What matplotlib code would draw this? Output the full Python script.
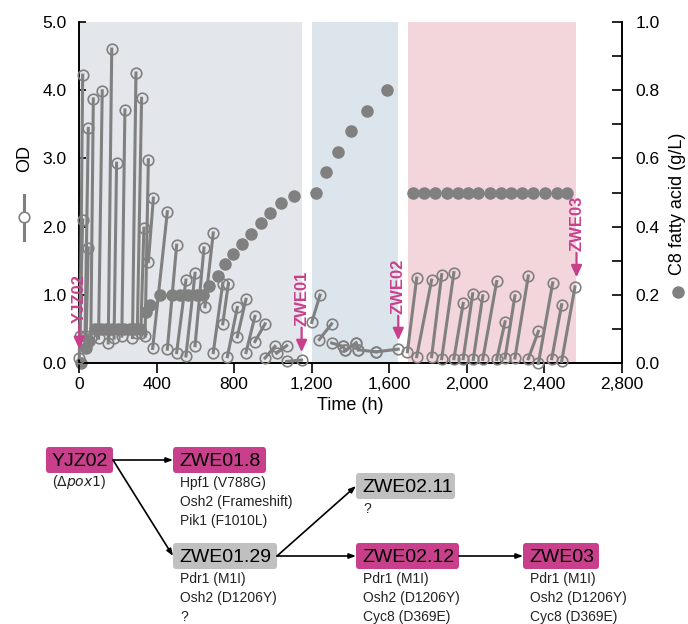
import numpy as np
import matplotlib
matplotlib.use("Agg")
import matplotlib.pyplot as plt
from matplotlib.patches import FancyBboxPatch
from matplotlib.ticker import FuncFormatter, MultipleLocator

plt.rcParams['font.family'] = ['Liberation Sans', 'DejaVu Sans']

# OD passages: each one drawn as a segment from (t0, od0) to (t1, od1)
seg_t0 = [0, 5, 30, 36, 60, 100, 150, 180, 220, 275, 300, 318, 340, 357, 379, 455, 503, 551, 598, 649, 692, 741,
          765, 816, 861, 907, 959, 1019, 1071, 1200, 1239, 1303, 1363, 1372, 1429, 1441, 1532,
          1694, 1742, 1819, 1871, 1934, 1982, 2034, 2083, 2155, 2198, 2249, 2318, 2370, 2439, 2490]
seg_od0 = [0.08, 0.4, 0.35, 0.4, 0.37, 0.37, 0.3, 0.37, 0.4, 0.38, 0.45, 0.45, 0.4, 1.49, 0.22, 0.21, 0.16, 0.11,
           0.26, 0.83, 0.16, 0.58, 0.1, 0.39, 0.16, 0.32, 0.08, 0.15, 0.03, 0.6, 0.35, 0.3, 0.25, 0.19, 0.3, 0.2,
           0.17, 0.17, 0.1, 0.1, 0.07, 0.07, 0.07, 0.06, 0.06, 0.06, 0.08, 0.08, 0.07, 0.0, 0.07, 0.03]
seg_t1 = [18, 18, 47, 47, 73, 119, 168, 193, 236, 293, 322, 334, 357, 383, 455, 503, 551, 598, 644, 692, 741, 770,
          816, 861, 907, 959, 1010, 1071, 1148, 1243, 1303, 1363, 1372, 1429, 1441, 1532, 1647,
          1742, 1819, 1871, 1934, 1982, 2031, 2083, 2155, 2198, 2249, 2318, 2370, 2444, 2490, 2559]
seg_od1 = [2.1, 4.22, 3.44, 1.69, 3.87, 3.99, 4.6, 2.93, 3.71, 4.25, 3.88, 1.98, 2.98, 2.42, 2.22, 1.73, 1.22, 1.32,
           1.69, 1.91, 1.17, 1.17, 0.82, 0.94, 0.69, 0.58, 0.25, 0.26, 0.05, 1.0, 0.58, 0.25, 0.19, 0.3, 0.2, 0.17,
           0.21, 1.25, 1.22, 1.3, 1.33, 0.88, 1.02, 0.99, 1.2, 0.61, 0.99, 1.28, 0.47, 1.18, 0.86, 1.12]

# C8 fatty acid titer (right axis)
c8_t = [10, 35, 52, 82, 110, 140, 170, 200, 230, 260, 290, 314, 345, 366, 417, 477, 520, 563, 606, 640,
        672, 715, 753, 795, 839, 887, 937, 985, 1040, 1109, 1222, 1274, 1337, 1401, 1484, 1587,
        1724, 1780, 1835, 1896, 1956, 2008, 2059, 2120, 2175, 2227, 2284, 2344, 2404, 2465, 2516]
c8_v = [0.0, 0.045, 0.066, 0.1, 0.1, 0.1, 0.1, 0.1, 0.1, 0.1, 0.1, 0.1, 0.15, 0.17, 0.2, 0.2, 0.2, 0.2, 0.2, 0.2,
        0.227, 0.257, 0.29, 0.32, 0.35, 0.38, 0.41, 0.44, 0.47, 0.49, 0.5, 0.56, 0.62, 0.68, 0.74, 0.8,
        0.5, 0.5, 0.5, 0.5, 0.5, 0.5, 0.5, 0.5, 0.5, 0.5, 0.5, 0.5, 0.5, 0.5, 0.5]

# shaded phases
phase_start = [0, 1200, 1699]
phase_end = [1148, 1647, 2564]
phase_color = ['#e3e6ea', '#dce4ec', '#f3d6dc']

# strain transfer points
strain_names = ['YJZ02', 'ZWE01', 'ZWE02', 'ZWE03']
strain_t = [0, 1148, 1647, 2567]
strain_od = [0.17, 0.125, 0.3, 1.22]

grey = '#808080'
magenta = '#c8408c'

fig = plt.figure(figsize=(6.88, 6.24), dpi=100)
ax = fig.add_axes([0.1151, 0.4175, 0.7885, 0.5477])
ax2 = ax.twinx()
ax.set_zorder(ax2.get_zorder() + 1)
ax.patch.set_visible(False)

for s, e, c in zip(phase_start, phase_end, phase_color):
    ax2.axvspan(s, e, color=c, lw=0, zorder=0)

ax2.plot(c8_t, c8_v, 'o', color=grey, ms=8, zorder=2, clip_on=False)

for a, b, c, d in zip(seg_t0, seg_od0, seg_t1, seg_od1):
    ax.plot([a, c], [b, d], color=grey, lw=2.2, marker='o', ms=7.6, mfc='none', mec=grey, mew=1.2,
            zorder=3, clip_on=False)

for name, t, od in zip(strain_names, strain_t, strain_od):
    ax.annotate('', xy=(t, od), xytext=(t, od + 0.44),
                arrowprops=dict(arrowstyle='-|>,head_length=0.7,head_width=0.32', color=magenta, lw=1.6),
                zorder=5)
    ax.text(t, od + 0.42, name, rotation=90, ha='center', va='bottom', color=magenta,
            fontsize=12, fontweight='bold', zorder=5)

ax.set_xlim(0, 2800)
ax.set_ylim(0, 5)
ax2.set_ylim(0, 1)

ax.xaxis.set_major_locator(MultipleLocator(400))
ax.xaxis.set_major_formatter(FuncFormatter(lambda v, p: f'{int(v):,}'))
ax.yaxis.set_major_locator(MultipleLocator(1))
ax.yaxis.set_major_formatter(FuncFormatter(lambda v, p: f'{v:.1f}'))
ax2.yaxis.set_major_locator(MultipleLocator(0.2))
ax2.yaxis.set_minor_locator(MultipleLocator(0.1))
ax2.yaxis.set_major_formatter(FuncFormatter(lambda v, p: f'{v:.1f}'))

for a in (ax, ax2):
    a.spines['top'].set_visible(False)
    for sp in a.spines.values():
        sp.set_linewidth(1.2)
ax.tick_params(axis='x', direction='out', length=7, width=1.2, labelsize=12.5, pad=3)
ax.tick_params(axis='y', direction='in', length=5, width=1.2, labelsize=12.5, pad=9)
ax2.tick_params(axis='y', which='both', direction='in', length=7, width=1.2, labelsize=12.5, pad=10)
ax.set_xlabel('Time (h)', fontsize=13, labelpad=3)

# axis titles with their own marker keys
fig.text(25 / 688, 1 - 158 / 624, 'OD', rotation=90, ha='center', va='center', fontsize=13)
fig.add_artist(plt.Line2D([24 / 688, 24 / 688], [1 - 195 / 624, 1 - 240 / 624], color=grey, lw=2.2))
fig.add_artist(plt.Line2D([24 / 688], [1 - 217 / 624], marker='o', ms=7.6, mfc='white', mec=grey, mew=1.2))
fig.text(678 / 688, 1 - 204 / 624, 'C8 fatty acid (g/L)', rotation=90, ha='center', va='center', fontsize=13)
fig.add_artist(plt.Line2D([678 / 688], [1 - 292 / 624], marker='o', ms=8, color=grey, lw=0))

# lineage diagram in pixel coordinates
dax = fig.add_axes([0, 0, 1, 1], zorder=-5)
dax.set_xlim(0, 688)
dax.set_ylim(624, 0)
dax.axis('off')

box_names = ['YJZ02', 'ZWE01.8', 'ZWE01.29', 'ZWE02.11', 'ZWE02.12', 'ZWE03']
box_notes = [[], ['Hpf1 (V788G)', 'Osh2 (Frameshift)', 'Pik1 (F1010L)'],
             ['Pdr1 (M1I)', 'Osh2 (D1206Y)', '?'], ['?'],
             ['Pdr1 (M1I)', 'Osh2 (D1206Y)', 'Cyc8 (D369E)'],
             ['Pdr1 (M1I)', 'Osh2 (D1206Y)', 'Cyc8 (D369E)']]
box_fill = [magenta, magenta, '#c0c0c0', '#c0c0c0', magenta, magenta]
box_x = [46, 173, 173, 356, 356, 523]
box_w = [67, 93, 104, 99, 103, 76]
box_y = [447, 447, 543, 473, 543, 543]
box_h = 26

for name, notes, fc, x, w, y in zip(box_names, box_notes, box_fill, box_x, box_w, box_y):
    dax.add_patch(FancyBboxPatch((x + 3, y + 3), w - 6, box_h - 6, boxstyle='round,pad=3',
                                 fc=fc, ec='none'))
    if name == 'YJZ02':
        dax.text(x + w / 2, y + box_h / 2 + 1, name, ha='center', va='center', fontsize=14)
    else:
        dax.text(x + 6, y + box_h / 2 + 1, name, ha='left', va='center', fontsize=14)
    for i, note in enumerate(notes):
        dax.text(x + 7, y + box_h + 10 + i * 19, note, ha='left', va='center', fontsize=10, color='#222222')

dax.text(79, 482, r'($\Delta$$\it{pox1}$)', ha='center', va='center', fontsize=10, color='#222222')

links = [(0, 1), (0, 2), (2, 3), (2, 4), (4, 5)]
for i, j in links:
    x0 = box_x[i] + box_w[i]
    y0 = box_y[i] + box_h / 2
    x1 = box_x[j]
    y1 = box_y[j] + box_h / 2
    dax.annotate('', xy=(x1, y1), xytext=(x0, y0),
                 arrowprops=dict(arrowstyle='-|>,head_length=0.4,head_width=0.15', color='black', lw=1.2,
                                 shrinkA=0, shrinkB=0))

fig.savefig('out.png', dpi=100)
